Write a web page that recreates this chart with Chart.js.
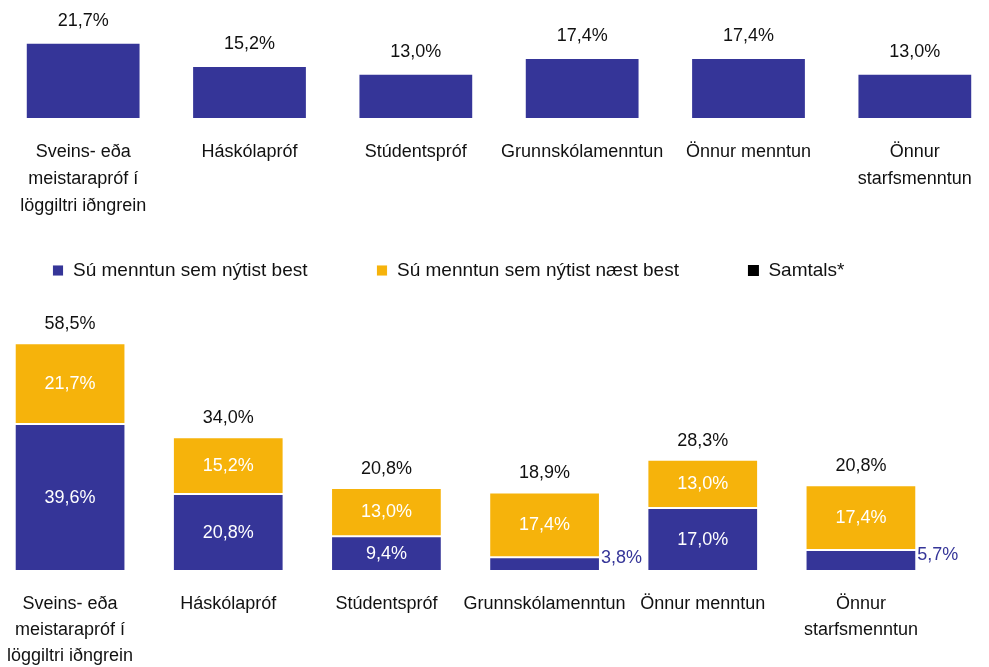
<!DOCTYPE html>
<html>
<head>
<meta charset="utf-8">
<script src="https://cdn.jsdelivr.net/npm/chart.js@4.4.0/dist/chart.umd.min.js"></script>
<style>
  html, body { margin: 0; padding: 0; background: #fff; width: 989px; height: 667px; overflow: hidden; position: relative; }
  #topChart { position: absolute; left: 0; top: 0; }
  #bottomChart { position: absolute; left: -9px; top: 192px; }
</style>
</head>
<body>
<canvas id="topChart" width="998" height="220"></canvas>
<canvas id="bottomChart" width="998" height="475"></canvas>
<script>
// Education categories (multi-line tick labels as arrays)
const categories = [
  ['Sveins- eða', 'meistarapróf í', 'löggiltri iðngrein'],
  'Háskólapróf',
  'Stúdentspróf',
  'Grunnskólamenntun',
  'Önnur menntun',
  ['Önnur', 'starfsmenntun']
];

// Upper bar chart values (%)
const upperValues = [21.7, 15.2, 13.0, 17.4, 17.4, 13.0];

// Lower stacked chart values (%)
const seriesNames = ['Sú menntun sem nýtist best', 'Sú menntun sem nýtist næst best', 'Samtals*'];
const bestValues = [39.6, 20.8, 9.4, 3.8, 17.0, 5.7];
const secondBestValues = [21.7, 15.2, 13.0, 17.4, 13.0, 17.4];
const totalValues = [58.5, 34.0, 20.8, 18.9, 28.3, 20.8];

const BLUE = '#353598';
const YELLOW = '#F6B30B';
const FONT = '"Liberation Sans", Arial, sans-serif';

Chart.defaults.font.family = FONT;
Chart.defaults.color = '#111';

const fmt = v => v.toFixed(1).replace('.', ',') + '%';

// Value labels above the upper bars
const upperLabels = {
  id: 'upperLabels',
  afterDatasetsDraw(chart) {
    const ctx = chart.ctx;
    const meta = chart.getDatasetMeta(0);
    ctx.save();
    ctx.font = '18px ' + FONT;
    ctx.fillStyle = '#111';
    ctx.textAlign = 'center';
    ctx.textBaseline = 'middle';
    meta.data.forEach((bar, i) => {
      ctx.fillText(fmt(upperValues[i]), bar.x, bar.y - 22);
    });
    ctx.restore();
  }
};

// Segment labels and totals for the stacked chart
const stackLabels = {
  id: 'stackLabels',
  afterDatasetsDraw(chart) {
    const ctx = chart.ctx;
    const best = chart.getDatasetMeta(0).data;
    const second = chart.getDatasetMeta(1).data;
    ctx.save();
    ctx.font = '18px ' + FONT;
    ctx.textBaseline = 'middle';
    best.forEach((bar, i) => {
      const h = bar.base - bar.y;
      const mid = (bar.y + bar.base) / 2;
      if (h >= 30) {
        ctx.fillStyle = '#fff';
        ctx.textAlign = 'center';
        ctx.fillText(fmt(bestValues[i]), bar.x, mid);
      } else {
        ctx.fillStyle = BLUE;
        ctx.textAlign = 'left';
        ctx.fillText(fmt(bestValues[i]), bar.x + bar.width / 2 + 1, mid - 6);
      }
    });
    second.forEach((bar, i) => {
      ctx.fillStyle = '#fff';
      ctx.textAlign = 'center';
      ctx.fillText(fmt(secondBestValues[i]), bar.x, (bar.y + bar.base) / 2);
      ctx.fillStyle = '#111';
      ctx.fillText(fmt(totalValues[i]), bar.x, bar.y - 19);
    });
    ctx.restore();
  }
};

// Nudge the legend row to the left of the plot centre
const legendShift = {
  id: 'legendShift',
  afterLayout(chart) {
    if (chart.legend) {
      chart.legend.left -= 17;
      chart.legend.right -= 17;
    }
  }
};

const xAxis = (height, tickLength, lineHeight) => ({
  type: 'category',
  grid: { display: false, drawTicks: true, tickLength: tickLength },
  border: { display: false },
  ticks: { padding: 0, color: '#111', font: { size: 18, lineHeight: lineHeight }, maxRotation: 0, autoSkip: false },
  afterFit: scale => { scale.height = height; }
});

new Chart(document.getElementById('topChart'), {
  type: 'bar',
  data: {
    labels: categories,
    datasets: [{
      data: upperValues,
      backgroundColor: BLUE,
      borderColor: 'rgba(255,255,255,0.85)',
      borderWidth: 1,
      borderSkipped: false,
      categoryPercentage: 1,
      barPercentage: 0.69
    }]
  },
  options: {
    responsive: false,
    animation: false,
    events: [],
    layout: { padding: 0 },
    plugins: { legend: { display: false }, tooltip: { enabled: false } },
    scales: {
      x: xAxis(102, 20.5, 1.5),
      y: { display: false, min: 0.6, max: 33.7 }
    }
  },
  plugins: [upperLabels]
});

new Chart(document.getElementById('bottomChart'), {
  type: 'bar',
  data: {
    labels: categories,
    datasets: [
      {
        label: seriesNames[0],
        data: bestValues,
        backgroundColor: BLUE,
        borderColor: 'rgba(255,255,255,0.9)',
        borderWidth: 1,
        borderSkipped: false,
        stack: 's',
        categoryPercentage: 1,
        barPercentage: 0.7
      },
      {
        label: seriesNames[1],
        data: secondBestValues,
        backgroundColor: YELLOW,
        borderColor: 'rgba(255,255,255,0.9)',
        borderWidth: 1,
        borderSkipped: false,
        stack: 's',
        categoryPercentage: 1,
        barPercentage: 0.7
      },
      {
        type: 'line',
        label: seriesNames[2],
        data: totalValues,
        showLine: false,
        pointRadius: 0,
        borderWidth: 0,
        borderColor: '#000',
        backgroundColor: '#000'
      }
    ]
  },
  options: {
    responsive: false,
    animation: false,
    events: [],
    layout: { padding: { left: 0, right: 49, top: 0, bottom: 0 } },
    plugins: {
      tooltip: { enabled: false },
      legend: {
        position: 'top',
        align: 'center',
        labels: {
          boxWidth: 11,
          boxHeight: 11,
          padding: 69,
          color: '#111',
          font: { size: 19 }
        }
      }
    },
    scales: {
      x: xAxis(97, 21.5, 1.43),
      y: { display: false, stacked: true, min: 0.35, max: 75.6 }
    }
  },
  plugins: [stackLabels, legendShift]
});
</script>
</body>
</html>
